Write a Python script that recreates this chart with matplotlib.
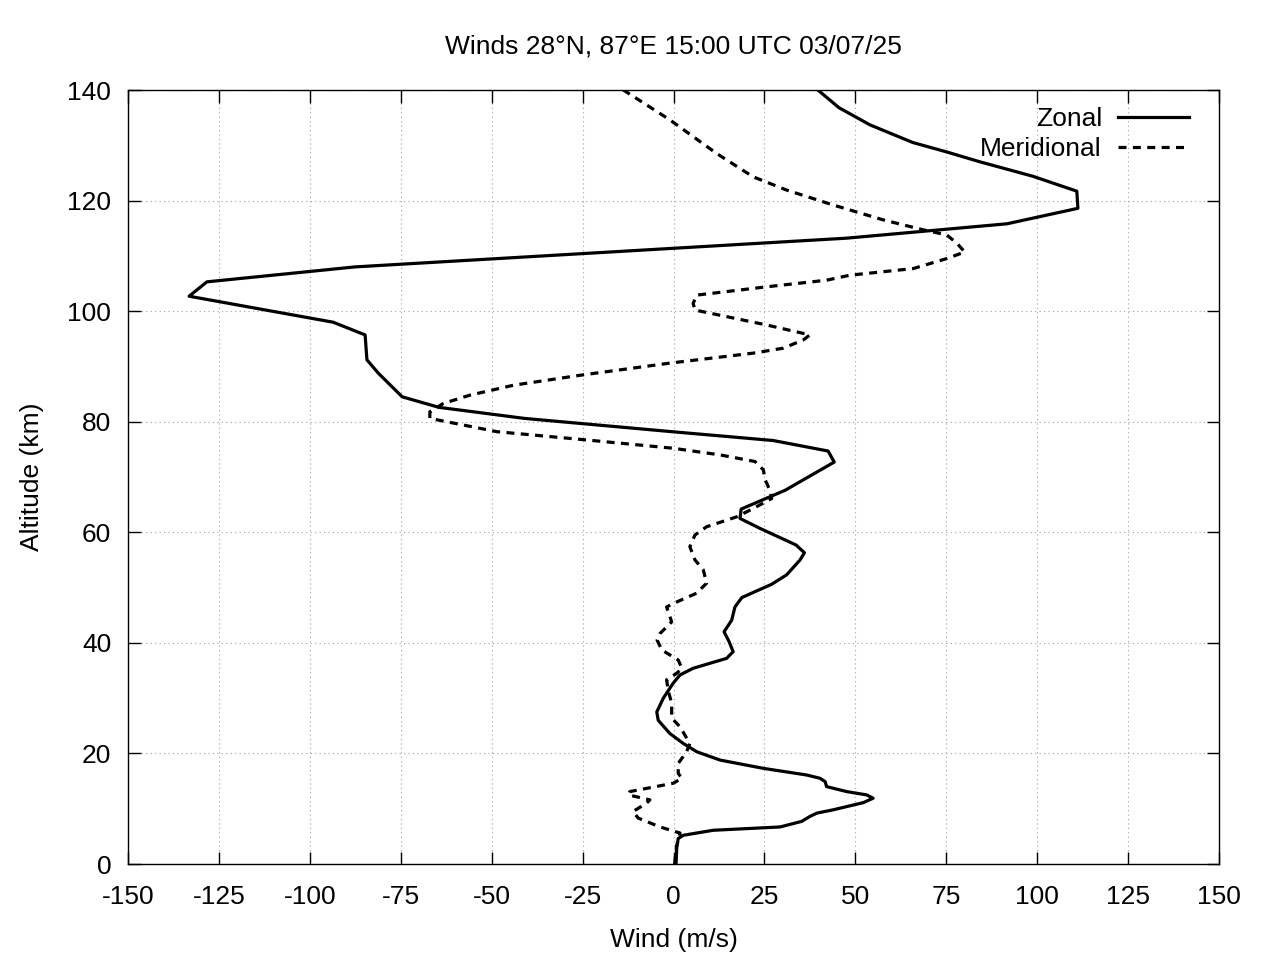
import numpy as np
import matplotlib
matplotlib.use("Agg")
import matplotlib.pyplot as plt

plt.rcParams['font.family'] = ['Liberation Sans', 'DejaVu Sans']
plt.rcParams['axes.unicode_minus'] = False

# zonal wind profile (altitude km, wind m/s)
zonal_alt = [0, 3.1, 4.6, 5.2, 6.1, 6.7, 7.7, 8.6, 9.2, 9.8, 11.1, 11.9, 12.5, 13.1,
             14.0, 14.9, 15.5, 16.1, 17.3, 18.8, 20.3, 21.8, 23.6, 26.0, 27.5, 30.0,
             32.7, 34.2, 35.4, 36.3, 37.2, 38.4, 40.2, 42.0, 44.1, 46.5, 48.2, 50.6,
             52.3, 55.0, 56.3, 57.7, 60.7, 62.5, 64.2, 67.6, 72.7, 74.7, 76.6, 78.2,
             80.6, 82.6, 84.5, 88.8, 91.2, 95.7, 98.0, 102.7, 105.3, 108.0, 113.2,
             115.8, 118.6, 121.7, 124.4, 127.0, 128.8, 130.5, 133.7, 136.8, 140]
zonal_wind = [0.7, 0.9, 1.3, 2.7, 10.9, 29.3, 35.2, 37.5, 39.4, 43.9, 52.2, 54.9, 53.1, 47.6,
              42.1, 41.7, 40.3, 36.6, 24.7, 12.8, 6.4, 2.7, -1.0, -4.2, -4.6, -2.8,
              -0.1, 1.8, 5.4, 10.0, 14.6, 16.4, 15.3, 13.9, 16.0, 16.9, 18.8, 27.0,
              31.1, 34.8, 36.0, 33.7, 23.8, 18.3, 18.6, 30.7, 44.2, 42.5, 27.4, -0.5,
              -41.0, -64.5, -74.6, -81.2, -84.3, -84.8, -93.6, -133.2, -128.3, -87.6, 47.6,
              91.7, 111.2, 110.9, 98.8, 84.3, 75.1, 65.8, 54.0, 45.5, 39.7]

# meridional wind profile
merid_alt = [0, 3.0, 5.6, 6.7, 8.3, 9.5, 11.0, 11.6, 12.5, 13.1, 14.6, 15.5, 16.4, 18.2,
             20.3, 21.8, 24.8, 26.4, 29.1, 31.2, 33.3, 34.5, 35.4, 36.9, 38.7, 40.5,
             41.7, 43.8, 46.5, 47.4, 49.0, 50.8, 53.2, 55.0, 57.4, 59.5, 61.0, 62.8,
             64.3, 66.1, 67.6, 69.5, 71.3, 72.8, 74.0, 75.2, 76.7, 78.2, 80.6, 81.8,
             83.3, 84.8, 86.6, 88.4, 90.6, 92.4, 93.3, 94.8, 95.7, 97.5, 100.2, 101.4,
             102.9, 104.4, 105.6, 106.5, 107.7, 109.5, 110.7, 112.3, 113.8, 114.7,
             116.5, 119.2, 121.9, 124.3, 128.5, 134.6, 140]
merid_wind = [0.3, 0.8, 1.8, -3.7, -9.7, -11.1, -7.4, -6.5, -12.4, -12.0, -0.1, 2.3, 1.3, 1.3,
              3.6, 4.5, 1.8, -0.5, -0.5, -1.4, -1.9, 0.9, 2.3, 1.3, -3.2, -4.5,
              -3.7, -0.5, -1.9, 0.9, 6.4, 9.1, 8.2, 5.9, 4.5, 5.9, 9.1, 17.4,
              21.9, 27.0, 26.5, 25.2, 24.7, 22.4, 12.8, -0.1, -23.9, -48.6, -67.0, -67.0,
              -63.3, -56.0, -44.0, -25.7, -1.0, 21.9, 30.2, 35.7, 37.5, 25.6, 5.9, 5.4,
              6.4, 25.6, 42.1, 48.5, 65.9, 75.1, 80.1, 77.9, 75.1, 68.7,
              57.7, 43.9, 31.1, 21.9, 11.9, -1.0, -13.8]

x_ticks = np.arange(-150, 151, 25)
y_ticks = np.arange(0, 141, 20)

fig = plt.figure(figsize=(12.8, 9.6), dpi=100)
ax = fig.add_axes([128/1280, 1 - 864/960, (1219-128)/1280, (864-90)/960])

ax.plot(zonal_wind, zonal_alt, color='black', lw=2.3, label='Zonal')
ax.plot(merid_wind, merid_alt, color='black', lw=2.3, linestyle=(0, (2.5, 2)), label='Meridional')

ax.set_xlim(-150, 150)
ax.set_ylim(0, 140)
ax.set_xticks(x_ticks)
ax.set_yticks(y_ticks)
ax.grid(True, color='#a0a0a0', linestyle=(0, (1, 3)), lw=0.8)
ax.tick_params(direction='in', length=9, width=1, top=True, right=True, labelsize=19)
ax.tick_params(axis='x', pad=15)
ax.tick_params(axis='y', pad=12)
for s in ax.spines.values():
    s.set_linewidth(1)

ax.set_xlabel('Wind (m/s)', fontsize=19, labelpad=14)
ax.set_ylabel('Altitude (km)', fontsize=19, labelpad=17)
ax.set_title('Winds 28°N, 87°E 15:00 UTC 03/07/25', fontsize=19, pad=26)

ax.legend(loc='upper right', frameon=False, markerfirst=False, fontsize=19,
          handlelength=2.7, handletextpad=0.6, labelspacing=0.23,
          borderpad=0, borderaxespad=0, bbox_to_anchor=(0.9725, 0.978))

fig.savefig('out.png', dpi=100)
